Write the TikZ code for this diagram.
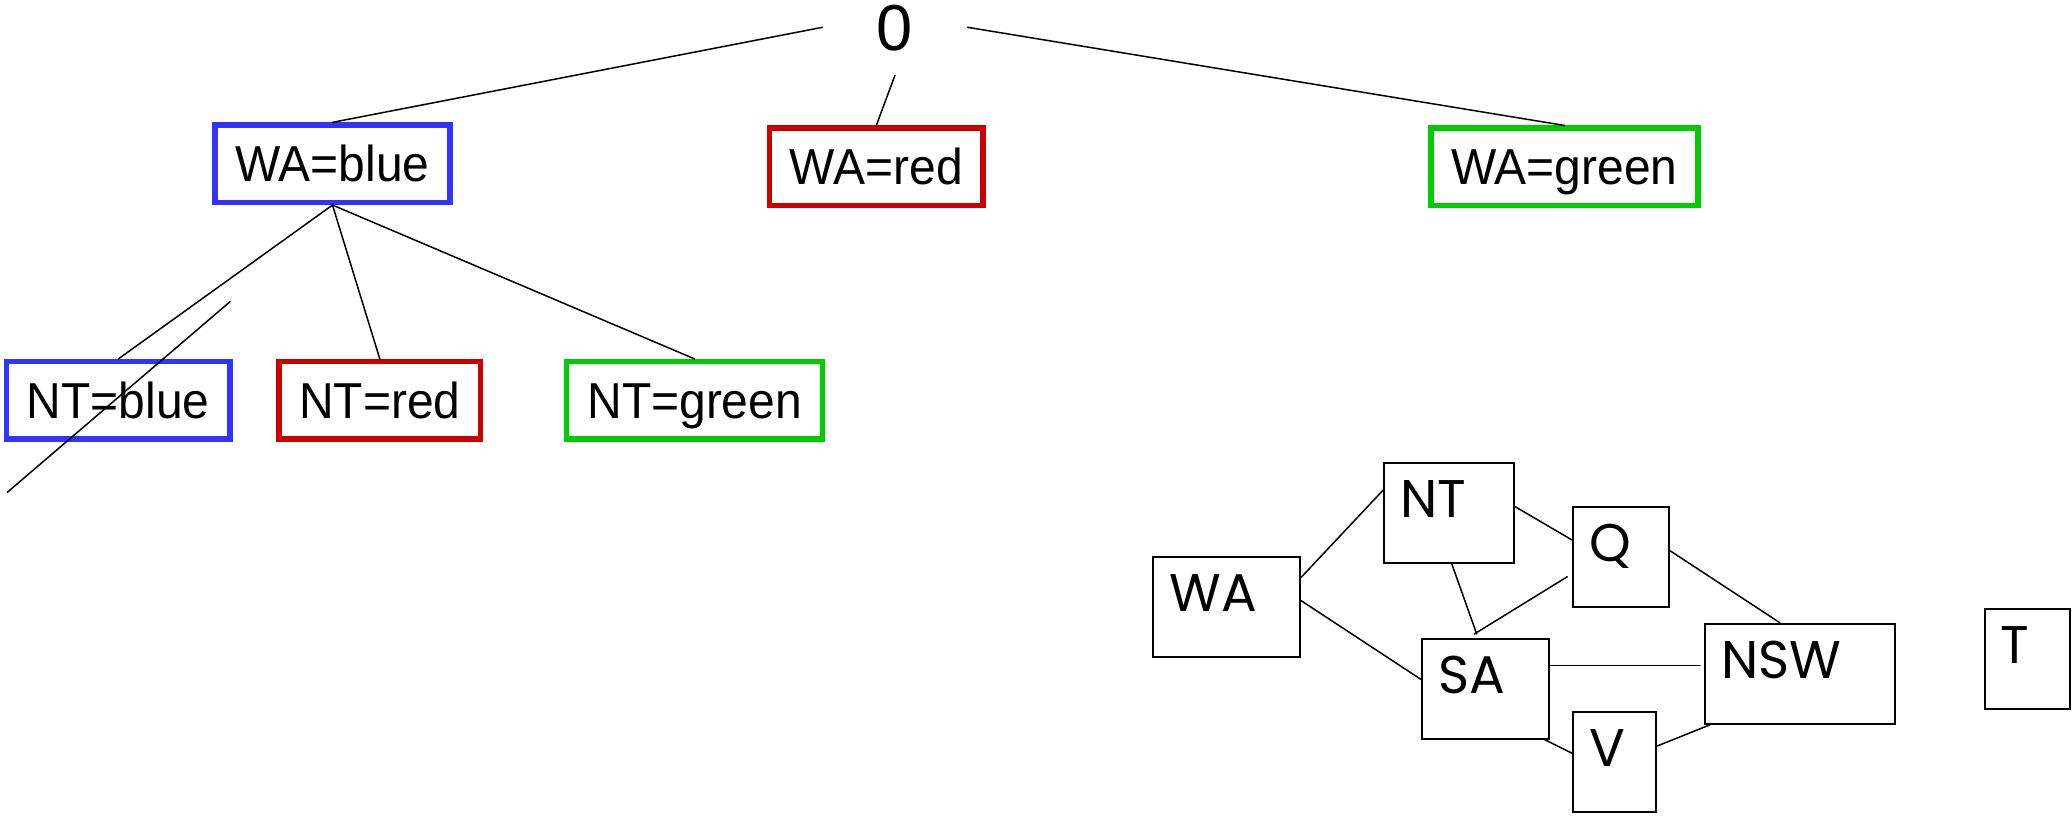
\documentclass[tikz,border=0pt]{standalone}
\usepackage{fontspec}
\setmainfont{Liberation Sans}
\newfontfamily\treefont[FakeStretch=0.95]{Liberation Sans}
\newfontfamily\mapfont{Poppins}
\usetikzlibrary{calc}
\definecolor{vblue}{RGB}{51,51,255}
\definecolor{vred}{RGB}{204,0,0}
\definecolor{vgreen}{RGB}{0,204,0}
\begin{document}
\begin{tikzpicture}[x=1pt,y=-1pt,
  link/.style={line width=1.5pt, line cap=round},
  assign/.style={draw, line width=5.3pt, minimum height=77.4pt, inner sep=0pt,
    font=\treefont\fontsize{50.5}{60}\selectfont, text height=36.2pt, text depth=0pt},
  region/.style={draw, line width=2pt, minimum height=100pt, inner sep=0pt},
  rname/.style={anchor=base west, inner sep=0pt, font=\mapfont\fontsize{53}{60}\selectfont},
]
\useasboundingbox (0,0) rectangle (2072,817);

% search tree: root and first two levels
\node[inner sep=0pt, minimum width=144.6pt, minimum height=95.4pt,
      font=\fontsize{65}{70}\selectfont, text height=47pt, text depth=0pt] (root) at (895,27.3) {0};

\node[assign, draw=vblue,  minimum width=235pt]   (wab) at (332.5,163.7)  {WA=blue};
\node[assign, draw=vred,   minimum width=213.4pt] (war) at (876.3,166.8)  {WA=red};
\node[assign, draw=vgreen, minimum width=267pt]   (wag) at (1564.5,166.8) {WA=green};

\node[assign, draw=vblue,  minimum width=223.4pt] (ntb) at (118.3,400.3) {NT=blue};
\node[assign, draw=vred,   minimum width=201.7pt] (ntr) at (379.8,400.3) {NT=red};
\node[assign, draw=vgreen, minimum width=256pt]   (ntg) at (694.7,400.3) {NT=green};

\draw[link] (root.west)  -- (wab.north);
\draw[link] (root.south) -- (war.north);
\draw[link] (root.east)  -- (wag.north);
\draw[link] (wab.south) -- (ntb.north);
\draw[link] (wab.south) -- (ntr.north);
\draw[link] (wab.south) -- (ntg.north);

% crossed-out branch
\coordinate (cutA) at (230,301.7);
\coordinate (cutB) at (7.3,492.3);
\draw[link] (cutA) -- (cutB);

% constraint graph of the regions
\node[region, minimum width=147pt] (wa)  at (1226.7,606.5) {};
\node[region, minimum width=130pt] (nt)  at (1449.2,512.7) {};
\node[region, minimum width=96pt]  (q)   at (1621,556.7)   {};
\node[region, minimum width=127pt] (sa)  at (1485.3,688.7) {};
\node[region, minimum width=190pt] (nsw) at (1800.2,673.8) {};
\node[region, minimum width=83pt]  (v)   at (1614.7,762.3) {};
\node[region, minimum width=85pt]  (t)   at (2027.2,658.8) {};

\node[rname] (walbl)  at ($(wa.north west)+(17,55.5)$)  {WA};
\node[rname] (ntlbl)  at ($(nt.north west)+(17,55.5)$)  {NT};
\node[rname] (qlbl)   at ($(q.north west)+(17,55.5)$)   {Q};
\node[rname] (salbl)  at ($(sa.north west)+(17,55.5)$)  {SA};
\node[rname] (nswlbl) at ($(nsw.north west)+(17,55.5)$) {NSW};
\node[rname] (vlbl)   at ($(v.north west)+(17,55.5)$)   {V};
\node[rname] (tlbl)   at ($(t.north west)+(17,55.5)$)   {T};

\draw[link] ($(wa.east)+(0,-29.2)$) -- ($(nt.west)+(0,-22.7)$);
\draw[link] ($(wa.east)+(0,-5.8)$)  -- ($(sa.west)+(0,-9.4)$);
\draw[link] ($(nt.east)+(0,-6)$)    -- ($(q.west)+(0,-16.7)$);
\draw[link] ($(nt.south)+(2.5,0)$)  -- ($(sa.north)+(-8.6,-3.7)$);
\draw[link] ($(q.west)+(-4.7,20)$)  -- ($(sa.north)+(-11,-3.7)$);
\draw[link] ($(sa.east)+(0,-23.4)$) -- ($(nsw.west)+(-4.3,-8.5)$);
\draw[link] ($(sa.south east)+(-5,0)$) -- ($(v.west)+(0,-9)$);
\draw[link] ($(q.east)+(0,-6)$)     -- ($(nsw.north)+(-20.2,0)$);
\draw[link] ($(v.east)+(0,-16.3)$)  -- ($(nsw.south west)+(5.8,0)$);
\end{tikzpicture}
\end{document}
